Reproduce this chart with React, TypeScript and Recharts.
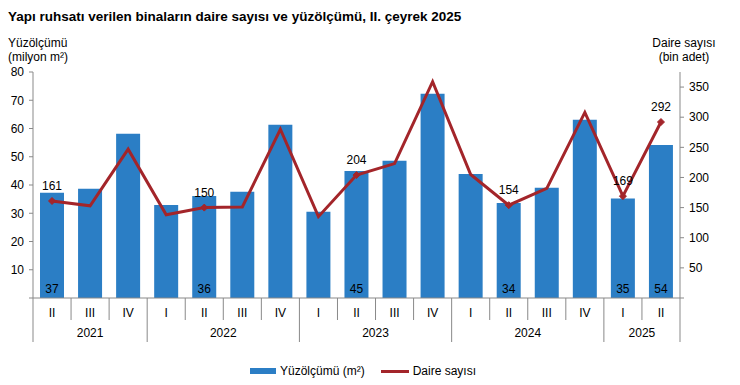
import React from 'react';
import { ComposedChart, Bar, Line, XAxis, YAxis, LabelList } from 'recharts';

const quarters = ['II', 'III', 'IV', 'I', 'II', 'III', 'IV', 'I', 'II', 'III', 'IV', 'I', 'II', 'III', 'IV', 'I', 'II'];
const years = ['2021', '2021', '2021', '2022', '2022', '2022', '2022', '2023', '2023', '2023', '2023', '2024', '2024', '2024', '2024', '2025', '2025'];
const floorArea = [37.3, 38.7, 58.1, 32.9, 36.1, 37.6, 61.3, 30.5, 45.0, 48.6, 72.3, 43.9, 33.6, 39.0, 63.1, 35.2, 54.2];
const dwellings = [161, 153, 247, 138, 150, 151, 280, 135, 204, 223, 359, 205, 154, 182, 308, 169, 292];
const labelled = [true, false, false, false, true, false, false, false, true, false, false, false, true, false, false, true, true];

const leftTicks = [0, 10, 20, 30, 40, 50, 60, 70, 80];
const rightTicks = [0, 50, 100, 150, 200, 250, 300, 350];

const title = 'Yapı ruhsatı verilen binaların daire sayısı ve yüzölçümü, II. çeyrek 2025';
const leftTitle = ['Yüzölçümü', '(milyon m²)'];
const rightTitle = ['Daire sayısı', '(bin adet)'];
const barName = 'Yüzölçümü (m²)';
const lineName = 'Daire sayısı';

const BLUE = '#2B7EC5';
const RED = '#A3252A';
const AXIS = '#898989';
const FONT = '"Liberation Sans", Arial, sans-serif';

const data = quarters.map((q, i) => ({
  period: `${years[i]}-${q}`,
  quarter: q,
  year: years[i],
  floorArea: floorArea[i],
  dwellings: dwellings[i],
  labelled: labelled[i],
}));

const XTick = (props: any) => {
  const { x, y, index, visibleTicksCount, width } = props;
  const n = visibleTicksCount || data.length;
  const bw = width ? width / n : 38.06;
  const left = x - bw / 2;
  const right = x + bw / 2;
  const d = data[index];
  const first = index === 0 || data[index - 1].year !== d.year;
  const last = index === data.length - 1;
  let yearLabel = null;
  if (first) {
    let cnt = 0;
    for (let k = index; k < data.length && data[k].year === d.year; k++) cnt++;
    yearLabel = (
      <text x={left + (cnt * bw) / 2} y={y + 39} textAnchor="middle" fontSize={12} fill="#000" fontFamily={FONT}>
        {d.year}
      </text>
    );
  }
  return (
    <g>
      <line x1={left} x2={left} y1={y} y2={first ? y + 44 : y + 22} stroke={AXIS} strokeWidth={1} />
      {last && <line x1={right} x2={right} y1={y} y2={y + 44} stroke={AXIS} strokeWidth={1} />}
      <text x={x} y={y + 19} textAnchor="middle" fontSize={12} fill="#000" fontFamily={FONT}>
        {d.quarter}
      </text>
      {yearLabel}
    </g>
  );
};

const BarLabel = (props: any) => {
  const { x, y, width, height, index } = props;
  if (!data[index].labelled) return null;
  return (
    <text x={x + width / 2} y={y + height - 5} textAnchor="middle" fontSize={12} fill="#000" fontFamily={FONT}>
      {Math.round(data[index].floorArea)}
    </text>
  );
};

const LineLabel = (props: any) => {
  const { x, y, index } = props;
  if (!data[index].labelled) return null;
  return (
    <text x={x} y={y - 11} textAnchor="middle" fontSize={12} fill="#000" fontFamily={FONT}>
      {data[index].dwellings}
    </text>
  );
};

const Diamond = (props: any) => {
  const { cx, cy, index } = props;
  if (!data[index] || !data[index].labelled) return <g key={`d${index}`} />;
  const s = 3.5;
  return (
    <path
      key={`d${index}`}
      d={`M${cx},${cy - s} L${cx + s},${cy} L${cx},${cy + s} L${cx - s},${cy} Z`}
      fill={RED}
      stroke={RED}
    />
  );
};

export default function App() {
  return (
    <div style={{ position: 'absolute', left: 0, top: 0, width: 740, height: 385, background: '#fff', fontFamily: FONT }}>
      <div style={{ position: 'absolute', left: 8, top: 9, fontSize: 13.5, fontWeight: 'bold', color: '#000', whiteSpace: 'nowrap' }}>
        {title}
      </div>
      <div style={{ position: 'absolute', left: 8, top: 36, fontSize: 12, lineHeight: '14px', color: '#000' }}>
        {leftTitle.map((t) => (
          <div key={t}>{t}</div>
        ))}
      </div>
      <div style={{ position: 'absolute', left: 634, width: 100, top: 36, fontSize: 12, lineHeight: '14px', color: '#000', textAlign: 'center' }}>
        {rightTitle.map((t) => (
          <div key={t}>{t}</div>
        ))}
      </div>
      <div style={{ position: 'absolute', left: 0, top: 0 }}>
        <ComposedChart width={740} height={385} data={data} margin={{ top: 72, right: 0, bottom: 43, left: 0 }}>
          <XAxis
            dataKey="period"
            xAxisId={0}
            height={44}
            interval={0}
            tickLine={false}
            tickSize={0}
            tickMargin={0}
            axisLine={{ stroke: AXIS }}
            tick={<XTick />}
          />
          <YAxis
            yAxisId="left"
            width={33}
            domain={[0, 80]}
            ticks={leftTicks}
            interval={0}
            tickSize={4}
            tickMargin={5}
            axisLine={{ stroke: AXIS }}
            tickLine={{ stroke: AXIS }}
            tick={{ fontSize: 12, fill: '#000', fontFamily: FONT }}
            tickFormatter={(v: number) => (v === 0 ? '' : String(v))}
          />
          <YAxis
            yAxisId="right"
            orientation="right"
            width={60}
            domain={[0, 375]}
            ticks={rightTicks}
            interval={0}
            tickSize={4}
            tickMargin={5}
            axisLine={{ stroke: AXIS }}
            tickLine={{ stroke: AXIS }}
            tick={{ fontSize: 12, fill: '#000', fontFamily: FONT, textAnchor: 'start' }}
            tickFormatter={(v: number) => (v === 0 ? '' : String(v))}
          />
          <Bar yAxisId="left" dataKey="floorArea" name={barName} fill={BLUE} barSize={24} isAnimationActive={false}>
            <LabelList dataKey="floorArea" content={<BarLabel />} />
          </Bar>
          <Line
            yAxisId="right"
            dataKey="dwellings"
            name={lineName}
            stroke={RED}
            strokeWidth={3}
            dot={<Diamond />}
            activeDot={false}
            isAnimationActive={false}
          >
            <LabelList dataKey="dwellings" content={<LineLabel />} />
          </Line>
        </ComposedChart>
      </div>
      <div style={{ position: 'absolute', left: 250, top: 364, fontSize: 12, color: '#000', display: 'flex', alignItems: 'center', whiteSpace: 'nowrap' }}>
        <span style={{ display: 'inline-block', width: 26, height: 6, background: BLUE, marginRight: 4 }} />
        <span>{barName}</span>
        <span style={{ display: 'inline-block', width: 28, height: 3, background: RED, marginLeft: 16, marginRight: 4 }} />
        <span>{lineName}</span>
      </div>
    </div>
  );
}
